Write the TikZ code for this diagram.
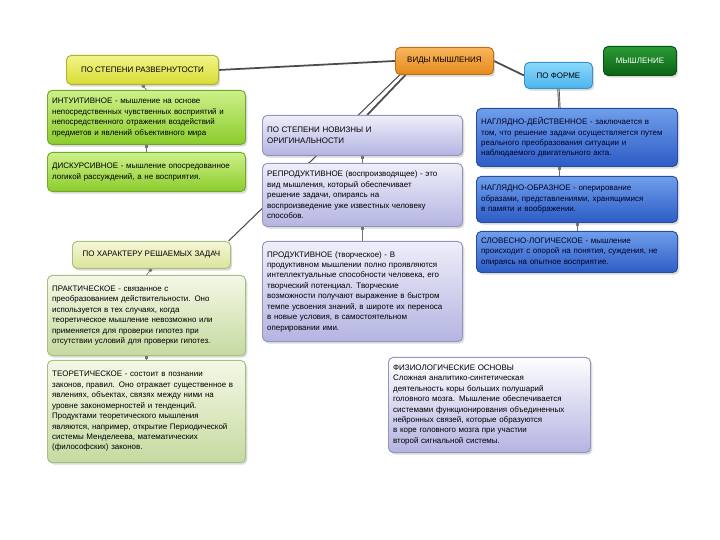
\documentclass[tikz,border=0pt]{standalone}
\usepackage{fontspec}
\setmainfont{Liberation Sans}
\usetikzlibrary{shadows,backgrounds,arrows.meta}

\definecolor{orTop}{HTML}{F8B55A}
\definecolor{orBot}{HTML}{E58A1E}
\definecolor{orLine}{HTML}{C06E18}
\definecolor{dgTop}{HTML}{2A9A34}
\definecolor{dgBot}{HTML}{0B6316}
\definecolor{lbTop}{HTML}{8AD8FA}
\definecolor{lbBot}{HTML}{4DB4EE}
\definecolor{lbLine}{HTML}{3A92C8}
\definecolor{yeTop}{HTML}{F2F48A}
\definecolor{yeBot}{HTML}{D8DC32}
\definecolor{yeLine}{HTML}{B0B030}
\definecolor{grTop}{HTML}{CDF08A}
\definecolor{grBot}{HTML}{8CCC2C}
\definecolor{grLine}{HTML}{70A82C}
\definecolor{lvTop}{HTML}{EEEEFA}
\definecolor{lvBot}{HTML}{B4B4E2}
\definecolor{lvLine}{HTML}{9494BC}
\definecolor{blTop}{HTML}{6F9EEA}
\definecolor{blBot}{HTML}{2D5CC6}
\definecolor{blLine}{HTML}{274D9C}
\definecolor{pgTop}{HTML}{F4F8E6}
\definecolor{pgBot}{HTML}{C6DAA0}
\definecolor{pgLine}{HTML}{A6BE80}
\definecolor{pyTop}{HTML}{F4F6D6}
\definecolor{pyBot}{HTML}{DCE49A}

\begin{document}
\begin{tikzpicture}[
        x=0.03cm, y=-0.03cm,
        every node/.style={font=\fontsize{6.8}{8.9}\selectfont, inner sep=0pt},
        box/.style={anchor=north west, rounded corners=4pt, line width=0.8pt, align=left, inner xsep=4pt,
            drop shadow={shadow xshift=1.5pt, shadow yshift=-1.8pt, opacity=0.3}},
        headbox/.style={box, align=center},
        orangebox/.style={headbox, draw=orLine, top color=orTop, bottom color=orBot},
        darkbox/.style={headbox, draw=dgBot!80!black, top color=dgTop, bottom color=dgBot, text=white},
        formbox/.style={headbox, draw=lbLine, top color=lbTop, bottom color=lbBot},
        yellowbox/.style={headbox, draw=yeLine, top color=yeTop, bottom color=yeBot},
        greenbox/.style={box, draw=grLine, top color=grTop, bottom color=grBot, text width=5.66cm},
        lavbox/.style={box, draw=lvLine, top color=lvTop, bottom color=lvBot, text width=5.72cm},
        bluebox/.style={box, draw=blLine, top color=blTop, bottom color=blBot, text=black!85!blue, text width=5.75cm},
        palebox/.style={box, draw=pgLine, top color=pgTop, bottom color=pgBot, text width=5.66cm},
        pyellowbox/.style={headbox, draw=pgLine, top color=pyTop, bottom color=pyBot},
        trunk/.style={draw=black!70, line width=1.5pt},
        twig/.style={draw=black!55, line width=0.6pt, {Square[length=2.5pt,width=2.5pt]}-},
    ]
    \useasboundingbox (0,0) rectangle (720,540);

    \node[orangebox, minimum width=2.94cm, minimum height=0.81cm](vidy) at (395,47){ВИДЫ МЫШЛЕНИЯ};
    \node[darkbox, minimum width=2.19cm, minimum height=0.87cm](myshl) at (603,46){МЫШЛЕНИЕ};
    \node[formbox, minimum width=2.04cm, minimum height=0.78cm](forma) at (524,62){ПО ФОРМЕ};

    \node[yellowbox, minimum width=4.56cm, minimum height=0.87cm](razv) at (66,55){ПО СТЕПЕНИ РАЗВЕРНУТОСТИ};
    \node[greenbox, minimum height=1.62cm](intuit) at (47,90){%
        ИНТУИТИВНОЕ - мышление на основе\\
        непосредственных чувственных восприятий и\\
        непосредственного отражения воздействий\\
        предметов и явлений объективного мира};
    \node[greenbox, minimum height=1.17cm](diskurs) at (47,152){%
        ДИСКУРСИВНОЕ - мышление опосредованное\\
        логикой рассуждений, а не восприятия.};

    \node[lavbox, minimum height=1.2cm](noviz) at (262,115){%
        ПО СТЕПЕНИ НОВИЗНЫ И\\
        ОРИГИНАЛЬНОСТИ};
    \node[lavbox, minimum height=1.89cm](reprod) at (262,163){%
        РЕПРОДУКТИВНОЕ (воспроизводящее) - это\\
        вид мышления, который обеспечивает\\
        решение задачи, опираясь на\\
        воспроизведение уже известных человеку\\
        способов.};
    \node[lavbox, minimum height=3.0cm](produkt) at (262,241){%
        ПРОДУКТИВНОЕ (творческое) - В\\
        продуктивном мышлении полно проявляются\\
        интеллектуальные способности человека, его\\
        творческий потенциал. Творческие\\
        возможности получают выражение в быстром\\
        темпе усвоения знаний, в широте их переноса\\
        в новые условия, в самостоятельном\\
        оперировании ими.};

    \node[bluebox, minimum height=1.74cm](nagld) at (476,108){%
        НАГЛЯДНО-ДЕЙСТВЕННОЕ - заключается в\\
        том, что решение задачи осуществляется путем\\
        реального преобразования ситуации и\\
        наблюдаемого двигательного акта.};
    \node[bluebox, minimum height=1.38cm](nagob) at (476,176){%
        НАГЛЯДНО-ОБРАЗНОЕ - оперирование\\
        образами, представлениями, хранящимися\\
        в памяти и воображении.};
    \node[bluebox, minimum height=1.23cm](slovlog) at (476,231){%
        СЛОВЕСНО-ЛОГИЧЕСКОЕ - мышление\\
        происходит с опорой на понятия, суждения, не\\
        опираясь на опытное восприятие.};

    \node[pyellowbox, minimum width=4.74cm, minimum height=0.81cm](harakt) at (72,241){ПО ХАРАКТЕРУ РЕШАЕМЫХ ЗАДАЧ};
    \node[palebox, minimum height=2.4cm](prakt) at (47,275){%
        ПРАКТИЧЕСКОЕ - связанное с\\
        преобразованием действительности. Оно\\
        используется в тех случаях, когда\\
        теоретическое мышление невозможно или\\
        применяется для проверки гипотез при\\
        отсутствии условий для проверки гипотез.};
    \node[palebox, minimum height=3.06cm](teor) at (47,360){%
        ТЕОРЕТИЧЕСКОЕ - состоит в познании\\
        законов, правил. Оно отражает существенное в\\
        явлениях, объектах, связях между ними на\\
        уровне закономерностей и тенденций.\\
        Продуктами теоретического мышления\\
        являются, например, открытие Периодической\\
        системы Менделеева, математических\\
        (философских) законов.};

    \node[lavbox, top color=white!90!lvTop, text width=5.78cm, minimum height=2.85cm](fiziol) at (388,357){%
        ФИЗИОЛОГИЧЕСКИЕ ОСНОВЫ\\
        Сложная аналитико-синтетическая\\
        деятельность коры больших полушарий\\
        головного мозга. Мышление обеспечивается\\
        системами функционирования объединенных\\
        нейронных связей, которые образуются\\
        в коре головного мозга при участии\\
        второй сигнальной системы.};

    \begin{pgfonlayer}{background}
    \draw[trunk] (vidy.west) -- (razv.east);
    \draw[trunk] (vidy.east) -- (forma.west);
    \draw[trunk] ([xshift=9pt]vidy.south west) -- ([xshift=4pt]noviz.north);
    \draw[trunk, line width=0.9pt] ([xshift=4pt]vidy.south west) -- ([xshift=-2pt]harakt.north east);
    \draw[trunk, double=black!25, double distance=0.7pt, line width=0.6pt] (forma.south) -- ([xshift=-15pt]nagld.north);
    \draw[twig] (razv.south) -- (intuit.north);
    \draw[twig] (intuit.south) -- (diskurs.north);
    \draw[twig] (noviz.south) -- (reprod.north);
    \draw[twig] (reprod.south) -- (produkt.north);
    \draw[twig] ([xshift=-15pt]nagld.south) -- ([xshift=-15pt]nagob.north);
    \draw[twig] (nagob.south) -- (slovlog.north);
    \draw[twig] (harakt.south) -- (prakt.north);
    \draw[twig] (prakt.south) -- (teor.north);
    \end{pgfonlayer}
\end{tikzpicture}
\end{document}
